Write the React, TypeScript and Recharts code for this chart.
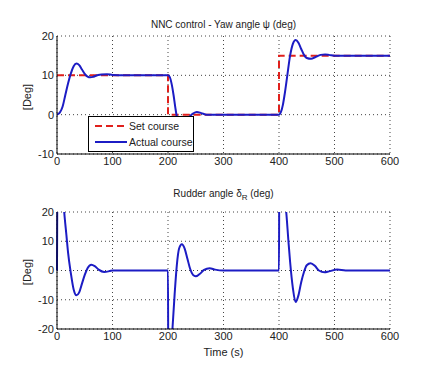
import React from 'react';
import { LineChart, Line, XAxis, YAxis, CartesianGrid } from 'recharts';

// Yaw angle: set course (step reference) and actual course
const setCourseT = [0, 200, 200, 400, 400, 600];
const setCourseV = [10, 10, 0, 0, 15, 15];

const yawT = [0, 5, 10, 15, 20, 25, 30, 35, 40, 45, 50, 55, 60, 65, 70, 80, 90, 100, 120, 200, 203, 207, 210, 213, 216, 220, 225, 235, 245, 252, 260, 270, 280, 400, 403, 407, 410, 415, 420, 425, 430, 435, 440, 445, 450, 458, 465, 475, 483, 490, 500, 600];
const yawV = [0, 0.5, 2, 5, 8, 10.5, 12.3, 13, 12.6, 11.5, 10.4, 9.7, 9.5, 9.6, 9.9, 10.2, 10.3, 10.1, 10, 10, 9.6, 7.5, 5, 2, -0.5, -1.5, -1.8, -1, 0.3, 0.7, 0.4, 0, 0, 0, 0.5, 2.5, 5, 10, 15, 18, 19, 18.3, 16.7, 15.2, 14.4, 14.2, 14.6, 15.2, 15.3, 15.2, 15, 15];

// Rudder angle
const rudderT = [0, 1, 10, 13, 17, 20, 25, 30, 35, 40, 45, 50, 55, 62, 68, 75, 85, 95, 100, 200, 200.5, 205, 208, 212, 216, 220, 225, 230, 235, 240, 245, 250, 257, 265, 275, 285, 300, 400, 400.5, 410, 413, 417, 420, 425, 430, 435, 440, 445, 450, 457, 465, 472, 482, 490, 505, 520, 600];
const rudderV = [0, 35, 28, 20, 12, 6, -1, -6.5, -8.5, -7.5, -4.5, -1.5, 0.8, 2, 1.5, 0.3, -0.5, -0.2, 0, 0, -35, -30, -20, -8, 2, 7.5, 9, 7.5, 4, 0.5, -1.5, -2, -1.2, 0.2, 0.8, 0.3, 0, 0, 35, 25, 20, 10, 3, -6, -10.8, -8.5, -4, -0.5, 1.8, 2.5, 1.5, 0, -0.6, -0.3, 0.3, 0, 0];

const xTicks = [0, 100, 200, 300, 400, 500, 600];
const yawTicks = [-10, 0, 10, 20];
const rudderTicks = [-20, -10, 0, 10, 20];

const toPoints = (t: number[], v: number[]) => t.map((x, i) => ({ t: x, v: v[i] }));

const FONT = '"Liberation Sans", Arial, sans-serif';
const BLUE = '#1c1cc4';
const RED = '#e0201c';
const tick = { fontSize: 11, fill: '#222', fontFamily: FONT };

interface PanelProps {
  top: number;
  marginTop: number;
  marginBottom: number;
  domain: [number, number];
  yTicks: number[];
  children: React.ReactNode;
}

function Panel({ top, marginTop, marginBottom, domain, yTicks, children }: PanelProps) {
  return (
    <div style={{ position: 'absolute', left: 0, top }}>
      <LineChart
        width={431}
        height={185}
        margin={{ top: marginTop, right: 41, left: 27, bottom: marginBottom }}
      >
        <CartesianGrid stroke="#444" strokeDasharray="1 3" />
        <XAxis
          dataKey="t"
          type="number"
          domain={[0, 600]}
          ticks={xTicks}
          tick={tick}
          tickLine={false}
          tickSize={0}
          tickMargin={3}
          height={20}
          stroke="#000"
          allowDuplicatedCategory
        />
        <XAxis xAxisId="top" orientation="top" dataKey="t" type="number" domain={[0, 600]} tick={false} tickLine={false} height={0} stroke="#000" />
        <YAxis
          type="number"
          domain={domain}
          ticks={yTicks}
          allowDataOverflow
          tick={tick}
          tickLine={false}
          tickSize={0}
          tickMargin={3}
          width={30}
          stroke="#000"
        />
        <YAxis yAxisId="right" orientation="right" domain={domain} tick={false} tickLine={false} width={0} stroke="#000" />
        {children}
      </LineChart>
    </div>
  );
}

const label = (style: React.CSSProperties): React.CSSProperties => ({
  position: 'absolute',
  fontFamily: FONT,
  fontSize: 10,
  color: '#222',
  whiteSpace: 'nowrap',
  ...style,
});

export default function App() {
  return (
    <div style={{ position: 'absolute', left: 0, top: 0, width: 431, height: 370, background: '#fff' }}>
      <Panel top={0} marginTop={36} marginBottom={11} domain={[-10, 20]} yTicks={yawTicks}>
        <Line data={toPoints(setCourseT, setCourseV)} dataKey="v" type="linear" stroke={RED} strokeWidth={2} strokeDasharray="7 4" dot={false} isAnimationActive={false} />
        <Line data={toPoints(yawT, yawV)} dataKey="v" type="monotone" stroke={BLUE} strokeWidth={2} dot={false} isAnimationActive={false} />
      </Panel>
      <Panel top={185} marginTop={27} marginBottom={21} domain={[-20, 20]} yTicks={rudderTicks}>
        <Line data={toPoints(rudderT, rudderV)} dataKey="v" type="monotone" stroke={BLUE} strokeWidth={2} dot={false} isAnimationActive={false} />
      </Panel>

      <div style={label({ left: 57, width: 333, top: 19, textAlign: 'center' })}>NNC control - Yaw angle ψ (deg)</div>
      <div style={label({ left: 57, width: 333, top: 188, textAlign: 'center' })}>
        Rudder angle δ<sub style={{ fontSize: 8 }}>R</sub> (deg)
      </div>
      <div style={label({ left: 57, width: 333, top: 346, textAlign: 'center', fontSize: 11 })}>Time (s)</div>
      <div style={label({ left: 27, top: 97, transform: 'translate(-50%, -50%) rotate(-90deg)', fontSize: 11 })}>[Deg]</div>
      <div style={label({ left: 27, top: 272, transform: 'translate(-50%, -50%) rotate(-90deg)', fontSize: 11 })}>[Deg]</div>

      {/* legend */}
      <div style={{ position: 'absolute', left: 88, top: 116, width: 104, height: 34, background: '#fff', border: '1px solid #000', fontFamily: FONT, fontSize: 10.5, color: '#222', whiteSpace: 'nowrap' }}>
        <div style={{ display: 'flex', alignItems: 'center', height: 16, marginTop: 1 }}>
          <svg width={32} height={6} style={{ marginLeft: 6, marginRight: 2 }}><line x1={0} y1={3} x2={32} y2={3} stroke={RED} strokeWidth={2} strokeDasharray="7 4" /></svg>
          <span>Set course</span>
        </div>
        <div style={{ display: 'flex', alignItems: 'center', height: 16 }}>
          <svg width={32} height={6} style={{ marginLeft: 6, marginRight: 2 }}><line x1={0} y1={3} x2={32} y2={3} stroke={BLUE} strokeWidth={2} /></svg>
          <span>Actual course</span>
        </div>
      </div>
    </div>
  );
}
